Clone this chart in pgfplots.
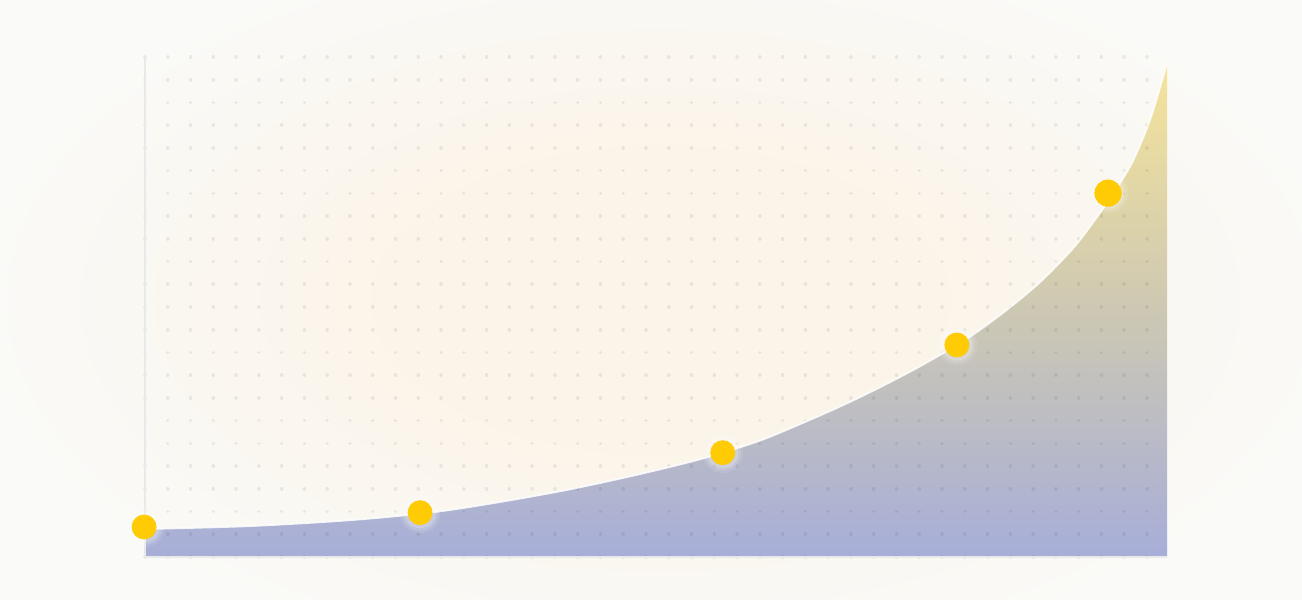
\documentclass[border=0pt]{standalone}
\usepackage{pgfplots}
\pgfplotsset{compat=1.18}

\definecolor{bgc}{HTML}{FAFAF8}
\definecolor{glowc}{HTML}{FBF4E8}
\definecolor{axisc}{HTML}{E9E9EA}
\definecolor{topc}{HTML}{F6E49A}
\definecolor{midc}{HTML}{CDC8B3}
\definecolor{botc}{HTML}{A7AED8}
\definecolor{dotc}{HTML}{FFCB05}

\pgfdeclareradialshading{glow}{\pgfpoint{0bp}{0bp}}{%
  color(0bp)=(glowc); color(9bp)=(glowc); color(25bp)=(bgc); color(50bp)=(bgc)}

\pgfplotsset{
  frame/.style={
    at={(72.5pt,21.5pt)}, anchor=south west,
    scale only axis, width=511pt, height=250pt,
    xmin=0, xmax=44.88, ymin=0, ymax=22,
    clip=false,
  },
}

\begin{document}
\begin{tikzpicture}
\fill[bgc] (0,0) rectangle (651pt,300pt);
\begin{scope}
\clip (0,0) rectangle (651pt,300pt);
\shade[shading=glow] (330pt,150pt) ellipse [x radius=345pt, y radius=185pt];
\end{scope}

% filled area
\begin{axis}[frame, hide axis]
\addplot[draw=none, top color=topc, bottom color=botc, middle color=midc, smooth]
  coordinates {
  (0,1.23) (4.6,1.36) (9,1.62) (12.66,1.97) (15.59,2.42) (18.52,2.95)
  (21.44,3.58) (24.37,4.30) (27.0,5.12) (29.35,6.1) (30.82,6.76)
  (32.28,7.47) (33.74,8.23) (34.91,8.89) (36.23,9.69) (37.84,10.87)
  (39.31,12.10) (40.77,13.60) (41.80,14.95) (42.45,15.90) (43.33,17.32)
  (44.14,19.25) (44.88,21.72)
} \closedcycle;
\end{axis}

% dot grid, axis lines, edge and points
\begin{axis}[frame,
  ytick={0,...,22}, yticklabels={}, xtick=\empty,
  major tick length=0pt,
  ymajorgrids,
  major grid style={black, opacity=0.07, line width=1.8pt, line cap=round,
    dash pattern=on 0.01pt off 11.3759pt},
  axis lines=left,
  axis line style={-, draw=axisc, line width=1.1pt},
]
\addplot[white, opacity=0.85, line width=0.9pt, smooth] coordinates {
  (0,1.23) (4.6,1.36) (9,1.62) (12.66,1.97) (15.59,2.42) (18.52,2.95)
  (21.44,3.58) (24.37,4.30) (27.0,5.12) (29.35,6.1) (30.82,6.76)
  (32.28,7.47) (33.74,8.23) (34.91,8.89) (36.23,9.69) (37.84,10.87)
  (39.31,12.10) (40.77,13.60) (41.80,14.95) (42.45,15.90) (43.33,17.32)
  (44.14,19.25) (44.88,21.72)
};
% soft halo round the points
\addplot[only marks, mark=*, mark size=10pt, white, opacity=0.08, mark options={draw=none}] coordinates {
  (-0.04,1.32) (12.08,1.95) (25.37,4.59) (35.65,9.33) (42.29,16.01)};
\addplot[only marks, mark=*, mark size=8.8pt, white, opacity=0.12, mark options={draw=none}] coordinates {
  (-0.04,1.32) (12.08,1.95) (25.37,4.59) (35.65,9.33) (42.29,16.01)};
\addplot[only marks, mark=*, mark size=7.6pt, white, opacity=0.18, mark options={draw=none}] coordinates {
  (-0.04,1.32) (12.08,1.95) (25.37,4.59) (35.65,9.33) (42.29,16.01)};
% points
\addplot[only marks, mark=*, mark size=6pt, dotc, mark options={draw=none}] coordinates {
  (-0.04,1.32) (12.08,1.95) (25.37,4.59) (35.65,9.33)};
\addplot[only marks, mark=*, mark size=6.6pt, dotc, mark options={draw=none}] coordinates {
  (42.29,16.01)};
\end{axis}
\pgfresetboundingbox
\path[use as bounding box] (0,0) rectangle (651pt,300pt);
\end{tikzpicture}
\end{document}
